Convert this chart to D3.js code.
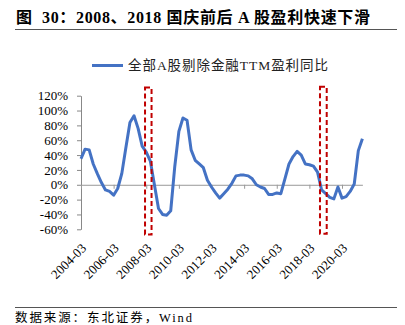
<!DOCTYPE html>
<html>
<head>
<meta charset="utf-8">
<script src="https://cdn.jsdelivr.net/npm/d3@7"></script>
<style>
html,body{margin:0;padding:0;background:#fff;}
svg{display:block;}
text{white-space:pre;}
</style>
</head>
<body>
<svg id="c" width="405" height="325"></svg>
<script>
// ---- data ----
const title = "图  30：2008、2018 国庆前后 A 股盈利快速下滑";
const source = "数据来源：东北证券，Wind";
const seriesName = "全部A股剔除金融TTM盈利同比";
const categories = [
 "2004-03","2004-06","2004-09","2004-12","2005-03","2005-06","2005-09","2005-12",
 "2006-03","2006-06","2006-09","2006-12","2007-03","2007-06","2007-09","2007-12",
 "2008-03","2008-06","2008-09","2008-12","2009-03","2009-06","2009-09","2009-12",
 "2010-03","2010-06","2010-09","2010-12","2011-03","2011-06","2011-09","2011-12",
 "2012-03","2012-06","2012-09","2012-12","2013-03","2013-06","2013-09","2013-12",
 "2014-03","2014-06","2014-09","2014-12","2015-03","2015-06","2015-09","2015-12",
 "2016-03","2016-06","2016-09","2016-12","2017-03","2017-06","2017-09","2017-12",
 "2018-03","2018-06","2018-09","2018-12","2019-03","2019-06","2019-09","2019-12",
 "2020-03","2020-06","2020-09","2020-12","2021-03","2021-06"];
const values = [
 35,48,47,28,15,3,-7,-9,
 -14,-5,15,50,84,93,76,52,
 44,32,0,-32,-40,-41,-35,25,
 72,90,87,47,33,28,23,6,
 -3,-11,-18,-12,-6,2,12,13,
 13,12,8,0,-3,-5,-13,-13,
 -11,-12,8,28,38,45,40,28,
 27,25,17,-7,-12,-17,-19,-3,
 -18,-16,-9,1,46,62];
const tickLabels = ["2004-03","2006-03","2008-03","2010-03","2012-03","2014-03","2016-03","2018-03","2020-03"];
const yTicks = [-60,-40,-20,0,20,40,60,80,100,120];
// annotation boxes: [category index start, category index end, value top, value bottom]
const boxStart = [15.7, 58.6];
const boxEnd = [17.3, 60.25];
const boxTop = [131, 132];
const boxBottom = [-67, -66];

// ---- drawing ----
const svg = d3.select("#c");
const serif = "'Liberation Serif','Times New Roman','Noto Sans CJK SC',serif";
const x = d3.scalePoint().domain(categories).range([81, 362.4]);
const step = x.step();
const xi = i => x.range()[0] + i * step;
const y = d3.scaleLinear().domain([-60, 120]).range([229.3, 95.7]);

// title
svg.append("text").attr("x", 16).attr("y", 23)
  .attr("font-family", serif).attr("font-weight", "bold").attr("font-size", 16)
  .attr("textLength", 354).attr("lengthAdjust", "spacing")
  .attr("fill", "#000").text(title);
svg.append("line").attr("x1", 15).attr("x2", 397).attr("y1", 29.5).attr("y2", 29.5)
  .attr("stroke", "#555").attr("stroke-width", 1);

// legend
svg.append("line").attr("x1", 92).attr("x2", 123).attr("y1", 65.5).attr("y2", 65.5)
  .attr("stroke", "#4472C4").attr("stroke-width", 3);
svg.append("text").attr("x", 128).attr("y", 70)
  .attr("font-family", serif).attr("font-size", 13.5).attr("fill", "#222")
  .attr("textLength", 200).attr("lengthAdjust", "spacing").text(seriesName);

// y axis
const yAxis = svg.append("g").attr("transform", "translate(81,0)")
  .call(d3.axisLeft(y).tickValues(yTicks).tickFormat(d => d + "%").tickSize(4).tickSizeOuter(0).tickPadding(9));
yAxis.selectAll("path,line").attr("stroke", "#888");
yAxis.selectAll("text").attr("font-family", serif).attr("font-size", 13).attr("fill", "#000");

// x axis at zero
const xAxis = svg.append("g").attr("transform", `translate(0,${y(0)})`)
  .call(d3.axisBottom(x).tickValues(tickLabels).tickFormat("").tickSize(4).tickSizeOuter(0));
xAxis.selectAll("path,line").attr("stroke", "#999");

// x labels
svg.append("g").selectAll("text").data(tickLabels).join("text")
  .attr("transform", d => `translate(${x(d) + 6},249) rotate(-45)`)
  .attr("text-anchor", "end")
  .attr("font-family", serif).attr("font-size", 13).attr("fill", "#000")
  .text(d => d);

// line
svg.append("path")
  .datum(values)
  .attr("fill", "none").attr("stroke", "#4472C4").attr("stroke-width", 3)
  .attr("stroke-linejoin", "round")
  .attr("d", d3.line().x((d, i) => x(categories[i])).y(d => y(d)));

// annotation boxes
svg.append("g").selectAll("rect").data(boxStart).join("rect")
  .attr("x", (d, i) => xi(d))
  .attr("width", (d, i) => xi(boxEnd[i]) - xi(d))
  .attr("y", (d, i) => y(boxTop[i]))
  .attr("height", (d, i) => y(boxBottom[i]) - y(boxTop[i]))
  .attr("fill", "none").attr("stroke", "#C00000").attr("stroke-width", 2)
  .attr("stroke-dasharray", "5,3");

// source
svg.append("line").attr("x1", 15).attr("x2", 397).attr("y1", 307.5).attr("y2", 307.5)
  .attr("stroke", "#555").attr("stroke-width", 1);
svg.append("text").attr("x", 15).attr("y", 322)
  .attr("font-family", serif).attr("font-size", 12.5).attr("fill", "#000")
  .attr("textLength", 177).attr("lengthAdjust", "spacing").text(source);
</script>
</body>
</html>
